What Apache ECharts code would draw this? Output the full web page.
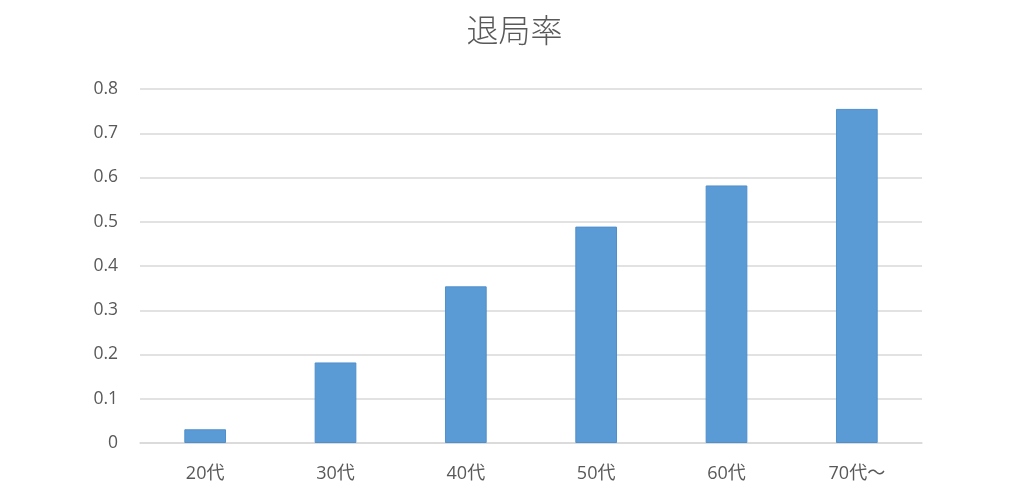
<!DOCTYPE html>
<html>
<head>
<meta charset="utf-8">
<script src="https://cdn.jsdelivr.net/npm/echarts@6/dist/echarts.min.js"></script>
<style>
  html, body { margin: 0; padding: 0; background: #fff; }
  #main { width: 1029px; height: 495px; }
</style>
</head>
<body>
<div id="main"></div>
<script>
var categories = ['20代', '30代', '40代', '50代', '60代', '70代～'];
var rates = [0.031, 0.182, 0.354, 0.489, 0.582, 0.755];

var labelFont = "'Open Sans', 'Noto Sans CJK JP', sans-serif";

var chartDom = document.getElementById('main');
var myChart = echarts.init(chartDom);
var option = {
    backgroundColor: '#ffffff',
    title: {
        text: '退局率',
        left: 'center',
        top: 9,
        textStyle: {
            fontFamily: "'Noto Sans CJK JP', sans-serif",
            fontSize: 32,
            fontWeight: 300,
            color: '#595959'
        }
    },
    grid: {
        left: 140,
        right: 107,
        top: 89,
        bottom: 52
    },
    xAxis: {
        type: 'category',
        data: categories,
        axisLine: { lineStyle: { color: '#d9d9d9', width: 1.5 } },
        axisTick: { show: false },
        axisLabel: {
            margin: 22,
            fontFamily: labelFont,
            fontSize: 18,
            color: '#595959'
        }
    },
    yAxis: {
        type: 'value',
        min: 0,
        max: 0.8,
        interval: 0.1,
        axisLine: { show: false },
        axisTick: { show: false },
        splitLine: { lineStyle: { color: '#d9d9d9', width: 1.5 } },
        axisLabel: {
            margin: 22,
            fontFamily: labelFont,
            fontSize: 17.5,
            color: '#595959',
            formatter: function (v) { return String(Math.round(v * 10) / 10); }
        }
    },
    series: [
        {
            type: 'bar',
            data: rates,
            barWidth: '32%',
            itemStyle: {
                color: '#5b9bd5',
                borderColor: '#4f8fcc',
                borderWidth: 1
            }
        }
    ]
};
myChart.setOption(option);
</script>
</body>
</html>
